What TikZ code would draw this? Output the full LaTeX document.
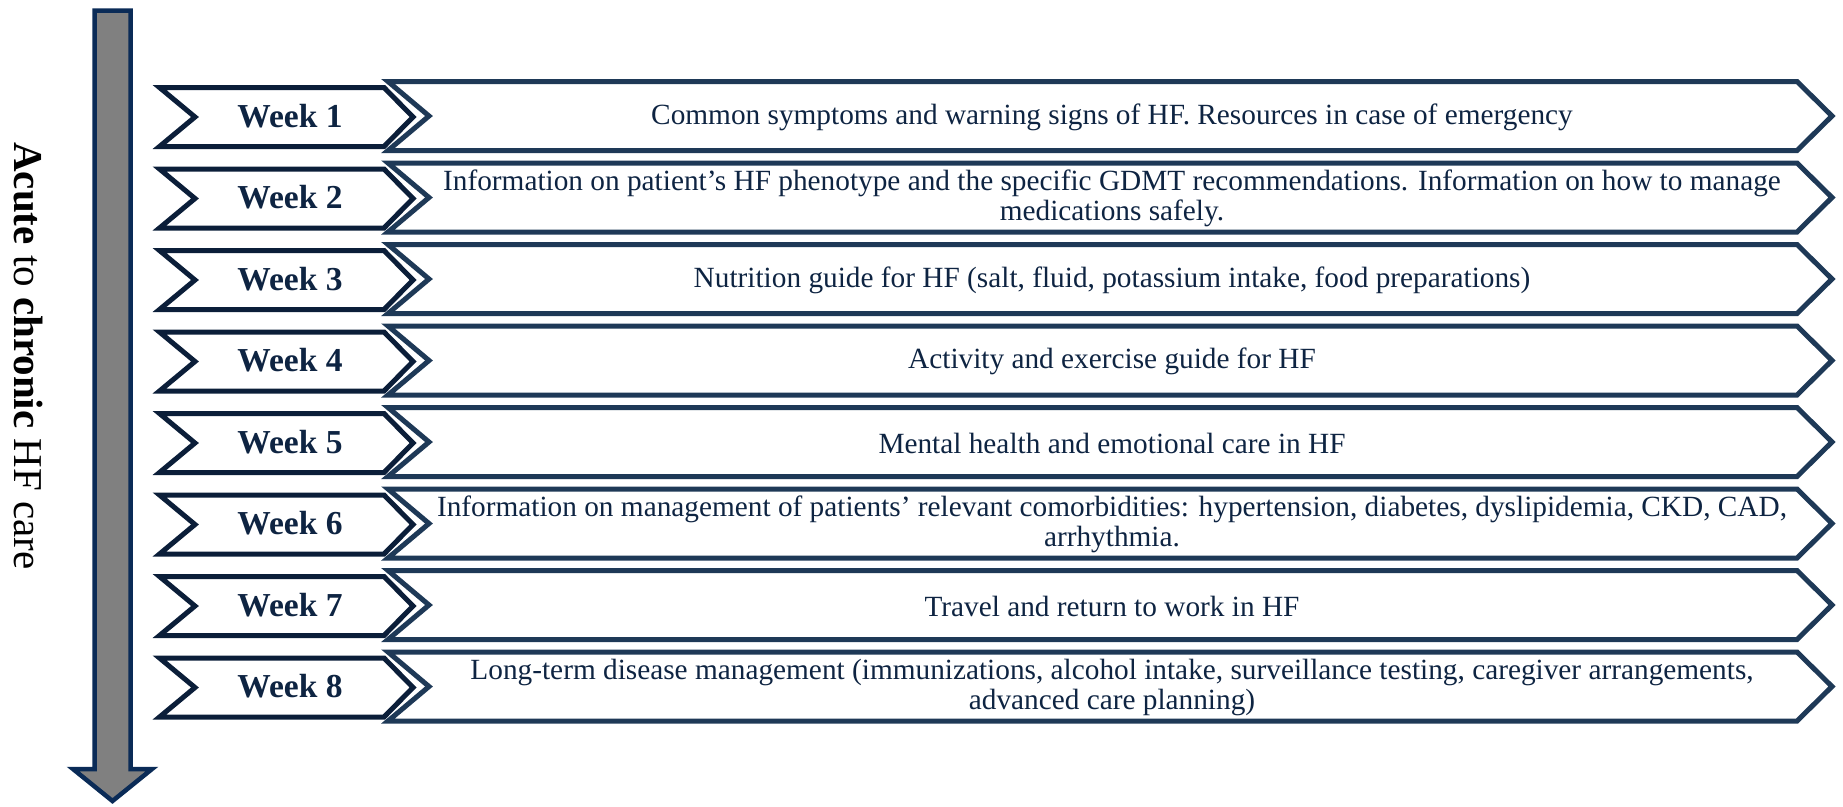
\documentclass[tikz,border=0pt]{standalone}
\usepackage{fontspec}
\setmainfont{Liberation Serif}
\definecolor{shaftline}{HTML}{0A2B57}
\definecolor{shaftfill}{HTML}{808080}
\definecolor{weekline}{HTML}{0B1E39}
\definecolor{topicline}{HTML}{1E3957}
\definecolor{navytext}{HTML}{0E2442}
\tikzset{
  weekshape/.style={draw=weekline, line width=5pt, fill=white, line join=miter},
  topicshape/.style={draw=topicline, line width=5pt, fill=white, line join=miter},
  weeklabel/.style={text=navytext, font=\fontsize{33.5}{36}\selectfont\bfseries, inner sep=0pt},
  topiclabel/.style={text=navytext, font=\fontsize{29.3}{30}\selectfont, align=center, inner sep=0pt},
  timearrow/.style={draw=shaftline, line width=4.5pt, fill=shaftfill, line join=miter},
  sidelabel/.style={text=black, font=\fontsize{41}{44}\selectfont, rotate=-90, inner sep=0pt}
}
% one row: week chevron, topic chevron and their labels
\newcommand\weekrow[3]{%
  \pgfmathsetmacro\cy{117+81.5*(#1-1)}%
  \pgfmathsetmacro\ty{\cy-1}%
  \path[topicshape] (388,\ty-34.5) -- (1797,\ty-34.5) -- (1832,\ty) -- (1797,\ty+34.5)
      -- (388,\ty+34.5) -- (429,\ty) -- cycle;
  \path[weekshape] (159.5,\cy-29.5) -- (384,\cy-29.5) -- (413,\cy) -- (384,\cy+29.5)
      -- (159.5,\cy+29.5) -- (195,\cy) -- cycle;
  \node[weeklabel] (w#1) at (290,\cy-1) {Week #2};
  \node[topiclabel] (t#1) at (1112,\ty+1) {#3};
}
\begin{document}
\begin{tikzpicture}[x=1pt,y=-1pt]
\useasboundingbox (0,0) rectangle (1843,806);
% timeline arrow
\path[timearrow] (94.5,10.5) -- (130.5,10.5) -- (130.5,769) -- (152,769)
    -- (112.5,801) -- (73,769) -- (94.5,769) -- cycle;
\node[sidelabel] (side) at (28,356) {\textbf{Acute} to \textbf{chronic} HF care};
\weekrow{1}{1}{Common symptoms and warning signs of HF. Resources in case of emergency}
\weekrow{2}{2}{Information on patient’s HF phenotype and the specific GDMT recommendations. Information on how to manage\\medications safely.}
\weekrow{3}{3}{Nutrition guide for HF (salt, fluid, potassium intake, food preparations)}
\weekrow{4}{4}{Activity and exercise guide for HF}
\weekrow{5}{5}{Mental health and emotional care in HF}
\weekrow{6}{6}{Information on management of patients’ relevant comorbidities: hypertension, diabetes, dyslipidemia, CKD, CAD,\\arrhythmia.}
\weekrow{7}{7}{Travel and return to work in HF}
\weekrow{8}{8}{Long-term disease management (immunizations, alcohol intake, surveillance testing, caregiver arrangements,\\advanced care planning)}
\end{tikzpicture}
\end{document}
